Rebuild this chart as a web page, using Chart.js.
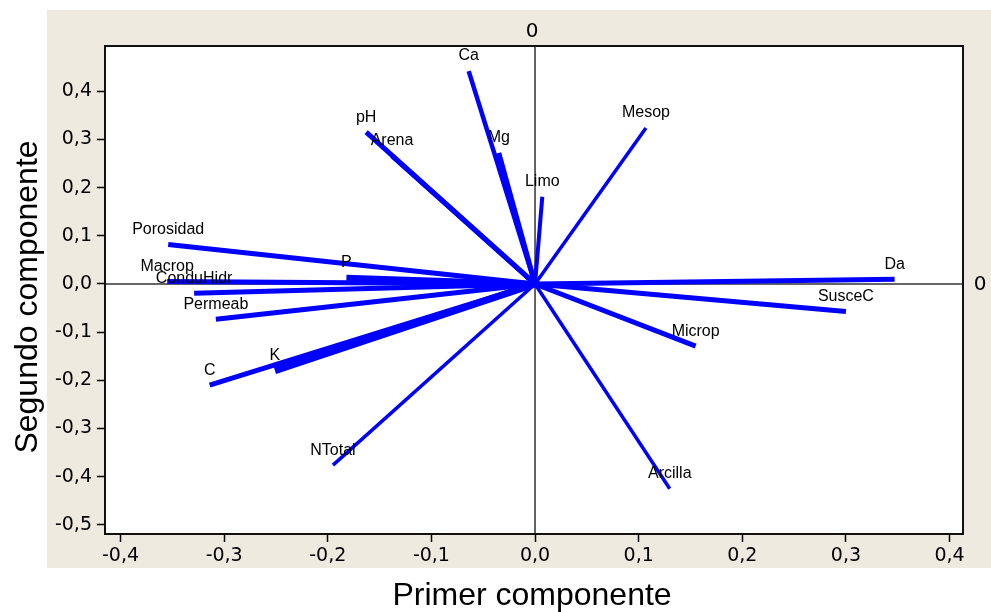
<!DOCTYPE html>
<html>
<head>
<meta charset="utf-8">
<script src="https://cdn.jsdelivr.net/npm/chart.js@4.4.1/dist/chart.umd.min.js"></script>
<style>
    html, body { margin: 0; padding: 0; background: #fff; }
    #wrap { position: relative; width: 991px; height: 612px; }
    #panel { position: absolute; left: 47px; top: 10px; width: 944px; height: 558px; background: #eeeae0; }
    #biplot { position: absolute; left: 0; top: 0; }
</style>
</head>
<body>
<div id="wrap">
    <div id="panel"></div>
    <canvas id="biplot" width="991" height="612"></canvas>
</div>
<script>
// Loadings of each soil variable on the first two components
const variables = ['Ca', 'pH', 'Arena', 'Mg', 'Limo', 'Mesop', 'Da', 'SusceC', 'Microp', 'Arcilla',
    'NTotal', 'C', 'K', 'Permeab', 'ConduHidr', 'Macrop', 'Porosidad', 'P'];
const pc1 = [-0.064, -0.163, -0.138, -0.035, 0.007, 0.107, 0.347, 0.300, 0.155, 0.130,
    -0.195, -0.314, -0.251, -0.308, -0.329, -0.355, -0.354, -0.182];
const pc2 = [0.442, 0.315, 0.266, 0.272, 0.181, 0.324, 0.010, -0.057, -0.129, -0.425,
    -0.376, -0.210, -0.180, -0.073, -0.019, 0.005, 0.082, 0.013];
const xTickValues = [-0.4, -0.3, -0.2, -0.1, 0, 0.1, 0.2, 0.3, 0.4];
const yTickValues = [-0.5, -0.4, -0.3, -0.2, -0.1, 0, 0.1, 0.2, 0.3, 0.4];

// stroke widths, a few vectors are drawn thinner / thicker in the original
const lineWidths = [4.5, 5, 5, 5, 4, 3.5, 5, 5, 5, 3.5, 3.5, 5, 7, 5, 5, 5, 5, 6];

const BLUE = '#0000ff';
const FONT = '"Liberation Sans", Arial, sans-serif';
const TICK_FONT = '"DejaVu Sans", Verdana, sans-serif';

function fmt(v) {
    return (Math.round(v * 10) / 10).toFixed(1).replace('.', ',');
}

const datasets = variables.map((name, i) => ({
    label: name,
    data: [{ x: 0, y: 0 }, { x: pc1[i], y: pc2[i] }],
    showLine: true,
    borderColor: BLUE,
    backgroundColor: BLUE,
    borderWidth: lineWidths[i],
    borderCapStyle: 'butt',
    pointRadius: 0
}));

const biplotDecor = {
    id: 'biplotDecor',
    beforeDraw(chart) {
        const { ctx, chartArea: a } = chart;
        ctx.save();
        ctx.fillStyle = '#ffffff';
        ctx.fillRect(a.left, a.top, a.right - a.left, a.bottom - a.top);
        ctx.restore();
    },
    beforeDatasetsDraw(chart) {
        const { ctx, chartArea: a, scales } = chart;
        const x0 = scales.x.getPixelForValue(0);
        const y0 = scales.y.getPixelForValue(0);
        ctx.save();
        ctx.strokeStyle = '#333333';
        ctx.lineWidth = 1.5;
        ctx.beginPath();
        ctx.moveTo(x0, a.top);
        ctx.lineTo(x0, a.bottom);
        ctx.moveTo(a.left, y0);
        ctx.lineTo(a.right, y0);
        ctx.stroke();
        ctx.restore();
    },
    afterDraw(chart) {
        const { ctx, chartArea: a, scales } = chart;
        ctx.save();
        // frame
        ctx.strokeStyle = '#111111';
        ctx.lineWidth = 2;
        ctx.strokeRect(a.left, a.top, a.right - a.left, a.bottom - a.top);

        // variable names above the vector tips
        ctx.fillStyle = '#000000';
        ctx.font = '16px ' + FONT;
        ctx.textAlign = 'center';
        ctx.textBaseline = 'middle';
        variables.forEach((name, i) => {
            const px = scales.x.getPixelForValue(pc1[i]);
            const py = scales.y.getPixelForValue(pc2[i]);
            ctx.fillText(name, px, py - 15);
        });

        // reference zero markers
        ctx.font = '20px ' + TICK_FONT;
        ctx.fillText('0', scales.x.getPixelForValue(0) - 3, a.top - 14);
        ctx.fillText('0', a.right + 17, scales.y.getPixelForValue(0) + 1);

        // axis titles
        ctx.font = '32px ' + FONT;
        ctx.fillText('Primer componente', (a.left + a.right) / 2 - 2, 596);
        ctx.translate(28, (a.top + a.bottom) / 2 + 7);
        ctx.rotate(-Math.PI / 2);
        ctx.font = '32px ' + FONT;
        ctx.fillText('Segundo componente', 0, 0);
        ctx.restore();
    }
};

const tickGrid = {
    drawOnChartArea: false,
    drawTicks: true,
    tickLength: 8,
    tickWidth: 1.5,
    tickColor: '#000000'
};

new Chart(document.getElementById('biplot'), {
    type: 'scatter',
    data: { datasets },
    options: {
        responsive: false,
        animation: false,
        devicePixelRatio: 1,
        layout: { padding: { top: 46, right: 28, left: 0, bottom: 0 } },
        plugins: {
            legend: { display: false },
            tooltip: { enabled: false }
        },
        scales: {
            x: {
                type: 'linear',
                min: -0.415,
                max: 0.413,
                grid: tickGrid,
                border: { display: false },
                afterBuildTicks: s => { s.ticks = xTickValues.map(v => ({ value: v })); },
                afterFit: s => { s.height = 78; },
                ticks: {
                    padding: 3,
                    color: '#000000',
                    font: { family: TICK_FONT, size: 19 },
                    callback: v => fmt(v)
                }
            },
            y: {
                type: 'linear',
                min: -0.519,
                max: 0.494,
                grid: tickGrid,
                border: { display: false },
                afterBuildTicks: s => { s.ticks = yTickValues.map(v => ({ value: v })); },
                afterFit: s => { s.width = 105; },
                ticks: {
                    padding: 5,
                    color: '#000000',
                    font: { family: TICK_FONT, size: 19 },
                    callback: v => fmt(v)
                }
            }
        }
    },
    plugins: [biplotDecor]
});
</script>
</body>
</html>
